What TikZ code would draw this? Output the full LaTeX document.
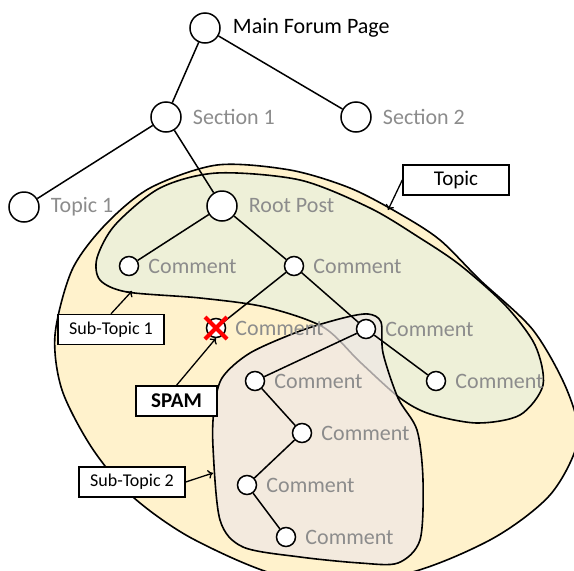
\documentclass[tikz,border=0pt]{standalone}
\usepackage{fontspec}
\setmainfont{Carlito}
\usepackage{tikz}
\usetikzlibrary{positioning,arrows.meta}

\definecolor{topicfill}{HTML}{FFF2CC}
\definecolor{subonefill}{HTML}{EEF0D8}
\definecolor{subtwofill}{HTML}{EFE8E6}
\definecolor{labelgray}{HTML}{8C8C8C}

\tikzset{
  big/.style={circle, draw, fill=white, line width=1.5pt, minimum size=30pt, inner sep=0pt},
  small/.style={circle, draw, fill=white, line width=1.5pt, minimum size=19pt, inner sep=0pt},
  lbl/.style={text=labelgray, font=\fontsize{22}{26}\selectfont, inner sep=0pt},
  tag/.style={draw, fill=white, line width=1.4pt, minimum height=30pt, minimum width=106pt, inner sep=0pt, font=\fontsize{18}{21}\selectfont},
  blob/.style={line width=1.6pt},
  edge/.style={line width=1.5pt},
  callout/.style={-{To[length=5pt,width=9pt]}, line width=1.3pt}
}

\begin{document}
\begin{tikzpicture}[x=1pt,y=-1pt]
\useasboundingbox (0,0) rectangle (574,571);

% regions
\begin{scope}
\clip (0,0) rectangle (574,571);
\draw[blob, fill=topicfill] plot[smooth cycle] coordinates {(217,165) (290,170) (350,188) (400,214) (440,240) (480,280) (533,330) (567,390) (578,440) (550,495) (490,540) (400,575) (290,578) (195,540) (133,497) (92,448) (62,390) (55,335) (72,270) (105,225) (150,188)};
\end{scope}
\draw[blob, fill=subonefill] plot[smooth cycle] coordinates {(217,173) (300,180) (370,208) (420,238) (460,265) (505,305) (535,345) (543,385) (520,415) (477,423) (430,414) (400,398) (360,362) (323,327) (265,307) (200,298) (127,292) (100,280) (97,258) (115,225) (160,188)};
\draw[blob, fill=subtwofill, fill opacity=0.7] plot[smooth cycle] coordinates {(368,314) (381,322) (383,353) (398,398) (417,430) (423,480) (420,540) (398,563) (360,563) (300,557) (243,547) (220,520) (213,447) (214,410) (222,378) (250,353) (300,331) (343,318)};

% forum tree
\node[big] (m) at (205,28) {};
\node[big] (s1) at (166,117) {};
\node[big] (s2) at (356,117) {};
\node[big] (t1) at (24,207) {};
\node[big] (rp) at (222,206) {};
\node[small] (c1) at (129,266) {};
\node[small] (c2) at (294,266) {};
\node[small] (sp) at (216,328) {};
\node[small] (c3) at (366,329) {};
\node[small] (c4) at (255,381) {};
\node[small] (c5) at (436,381) {};
\node[small] (c6) at (302,433) {};
\node[small] (c7) at (247,485) {};
\node[small] (c8) at (286,537) {};

\draw[edge] (m) -- (s1);
\draw[edge] (m) -- (s2);
\draw[edge] (s1) -- (t1);
\draw[edge] (s1) -- (rp);
\draw[edge] (rp) -- (c1);
\draw[edge] (rp) -- (c2);
\draw[edge] (c2) -- (sp);
\draw[edge] (c2) -- (c3);
\draw[edge] (c3) -- (c4);
\draw[edge] (c3) -- (c5);
\draw[edge] (c4) -- (c6);
\draw[edge] (c6) -- (c7);
\draw[edge] (c7) -- (c8);

\node[lbl, text=black, right=12pt of m] (mlbl) {Main Forum Page};
\node[lbl, right=11pt of s1] (s1lbl) {Section 1};
\node[lbl, right=11pt of s2] (s2lbl) {Section 2};
\node[lbl, right=11pt of t1] (t1lbl) {Topic 1};
\node[lbl, right=11pt of rp] (rplbl) {Root Post};
\node[lbl, right=9pt of c1] (c1lbl) {Comment};
\node[lbl, right=9pt of c2] (c2lbl) {Comment};
\node[lbl, right=9pt of sp] (splbl) {Comment};
\node[lbl, right=9pt of c3] (c3lbl) {Comment};
\node[lbl, right=9pt of c4] (c4lbl) {Comment};
\node[lbl, right=9pt of c5] (c5lbl) {Comment};
\node[lbl, right=9pt of c6] (c6lbl) {Comment};
\node[lbl, right=9pt of c7] (c7lbl) {Comment};
\node[lbl, right=9pt of c8] (c8lbl) {Comment};

% spam mark
\draw[red, line width=4pt] ([shift={(-11,-11)}]sp.center) -- ([shift={(11,11)}]sp.center);
\draw[red, line width=4pt] ([shift={(-11,11)}]sp.center) -- ([shift={(11,-11)}]sp.center);

% call-outs
\node[tag, font=\fontsize{21}{25}\selectfont] (tp) at (456,180) {Topic};
\node[tag] (st1) at (111,329.5) {Sub-Topic 1};
\node[tag, minimum width=81pt, font=\bfseries\fontsize{21}{25}\selectfont] (spam) at (176.5,401) {SPAM};
\node[tag] (st2) at (132,482) {Sub-Topic 2};
\coordinate (tpend) at (388,210);
\coordinate (st1end) at (132,291);
\coordinate (st2end) at (213,473);
\draw[callout] (tp.west) -- (tpend);
\draw[callout] (st1.north) -- (st1end);
\draw[callout] (spam.north) -- (sp.south);
\draw[callout] (st2.east) -- (st2end);
\end{tikzpicture}
\end{document}
